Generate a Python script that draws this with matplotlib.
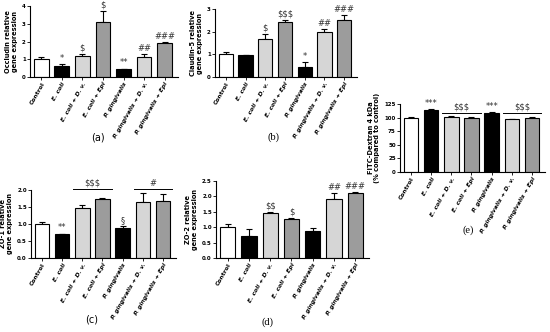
import matplotlib
matplotlib.use("Agg")
import matplotlib.pyplot as plt
import numpy as np

categories = ["Control", "E. coli", "E. coli + D. v.", "E. coli + Epi",
              "P. gingivalis", "P. gingivalis + D. v.", "P. gingivalis + Epi"]

occludin = [1.0, 0.61, 1.18, 3.09, 0.44, 1.14, 1.90]
occludin_err = [0.10, 0.12, 0.12, 0.62, 0.03, 0.14, 0.06]
occludin_sig = ["", "*", "$", "$", "**", "##", "###"]

claudin = [1.0, 0.97, 1.66, 2.41, 0.45, 2.00, 2.50]
claudin_err = [0.10, 0.0, 0.22, 0.10, 0.20, 0.10, 0.24]
claudin_sig = ["", "", "$", "$$$", "*", "##", "###"]

zo1 = [1.0, 0.71, 1.48, 1.75, 0.89, 1.64, 1.68]
zo1_err = [0.05, 0.0, 0.07, 0.02, 0.04, 0.26, 0.20]
zo1_sig = ["", "**", "", "", "§", "", ""]
zo1_groups = [(2, 3, "$$$"), (5, 6, "#")]

zo2 = [1.0, 0.73, 1.47, 1.27, 0.87, 1.90, 2.11]
zo2_err = [0.10, 0.21, 0.03, 0.04, 0.10, 0.20, 0.03]
zo2_sig = ["", "", "$$", "$", "", "##", "###"]

fitc = [100, 114, 102, 100, 109, 97, 100]
fitc_err = [1, 1.5, 1, 1, 1, 0.5, 1]
fitc_sig = ["", "***", "", "", "***", "", ""]
fitc_groups = [(2, 3, "$$$"), (5, 6, "$$$")]

colors = ["white", "black", "#d6d6d6", "#9c9c9c", "black", "#d6d6d6", "#9c9c9c"]

W, H = 550, 332
fig = plt.figure(figsize=(5.5, 3.32), dpi=100)

def ax_at(x0, y0, x1, y1):
    return fig.add_axes([x0 / W, 1 - y1 / H, (x1 - x0) / W, (y1 - y0) / H])

def panel(ax, vals, errs, sigs, yticks, ylabel, groups=None, group_y=None, tickfmt="{:g}"):
    x = np.arange(len(vals))
    ax.bar(x, vals, width=0.72, color=colors, edgecolor="black", linewidth=0.8, zorder=2)
    ax.errorbar(x, vals, yerr=[np.zeros(len(vals)), errs], fmt="none", ecolor="black",
                elinewidth=0.8, capsize=2.2, capthick=0.8, zorder=1)
    ax.set_xlim(-0.55, len(vals) - 0.35)
    ax.set_ylim(yticks[0], yticks[-1])
    ax.set_yticks(yticks)
    ax.set_yticklabels([tickfmt.format(t) for t in yticks], fontsize=4, fontweight="bold")
    ax.set_xticks(x)
    ax.set_xticklabels(categories, rotation=60, ha="right", rotation_mode="anchor",
                       fontsize=4.3, fontweight="bold")
    for i, lab in enumerate(ax.get_xticklabels()):
        if i > 0:
            lab.set_fontstyle("italic")
    ax.tick_params(axis="both", length=2, width=0.6, pad=1)
    for s in ["top", "right"]:
        ax.spines[s].set_visible(False)
    for s in ["left", "bottom"]:
        ax.spines[s].set_linewidth(0.8)
    ax.set_ylabel(ylabel, fontsize=4.8, fontweight="bold", labelpad=3, linespacing=1.1)
    for i, s in enumerate(sigs):
        if s:
            ax.annotate(s, (x[i], vals[i] + errs[i]), xytext=(0, 1), textcoords="offset points",
                        ha="center", va="bottom", fontsize=6, color="#333333",
                        annotation_clip=False, parse_math=False)
    if groups:
        for i, j, s in groups:
            ax.plot([i - 0.45, j + 0.45], [group_y, group_y], color="black", lw=0.7,
                    clip_on=False)
            ax.annotate(s, ((i + j) / 2, group_y), xytext=(0, 1), textcoords="offset points",
                        ha="center", va="bottom", fontsize=6, color="#333333",
                        annotation_clip=False, parse_math=False)

ax_a = ax_at(30, 6, 178, 77)
panel(ax_a, occludin, occludin_err, occludin_sig, [0, 1, 2, 3, 4],
      "Occludin relative\ngene expression")
ax_b = ax_at(215, 9, 357, 77)
panel(ax_b, claudin, claudin_err, claudin_sig, [0, 1, 2, 3],
      "Claudin-5 relative\ngene expression")
ax_c = ax_at(31, 190, 176, 258)
panel(ax_c, zo1, zo1_err, zo1_sig, [0.0, 0.5, 1.0, 1.5, 2.0],
      "ZO-1 relative\ngene expression", zo1_groups, 2.02, "{:.1f}")
ax_d = ax_at(216, 181, 369, 258)
panel(ax_d, zo2, zo2_err, zo2_sig, [0.0, 0.5, 1.0, 1.5, 2.0, 2.5],
      "ZO-2 relative\ngene expression", tickfmt="{:.1f}")
ax_e = ax_at(400, 104, 545, 172)
panel(ax_e, fitc, fitc_err, fitc_sig, [0, 25, 50, 75, 100, 125],
      "FITC-Dextran 4 kDa\n(% compared to control)", fitc_groups, 108)

fig.text(98 / W, 1 - 137 / H, "(a)", ha="center", va="center", fontsize=7, family="DejaVu Sans")
fig.text(273 / W, 1 - 137 / H, "(b)", ha="center", va="center", fontsize=7.5, family="Liberation Serif")
fig.text(92 / W, 1 - 320 / H, "(c)", ha="center", va="center", fontsize=7, family="DejaVu Sans")
fig.text(268 / W, 1 - 322 / H, "(d)", ha="center", va="center", fontsize=7.5, family="Liberation Serif")
fig.text(468 / W, 1 - 230 / H, "(e)", ha="center", va="center", fontsize=7.5, family="Liberation Serif")

fig.savefig("out.png", dpi=100)
